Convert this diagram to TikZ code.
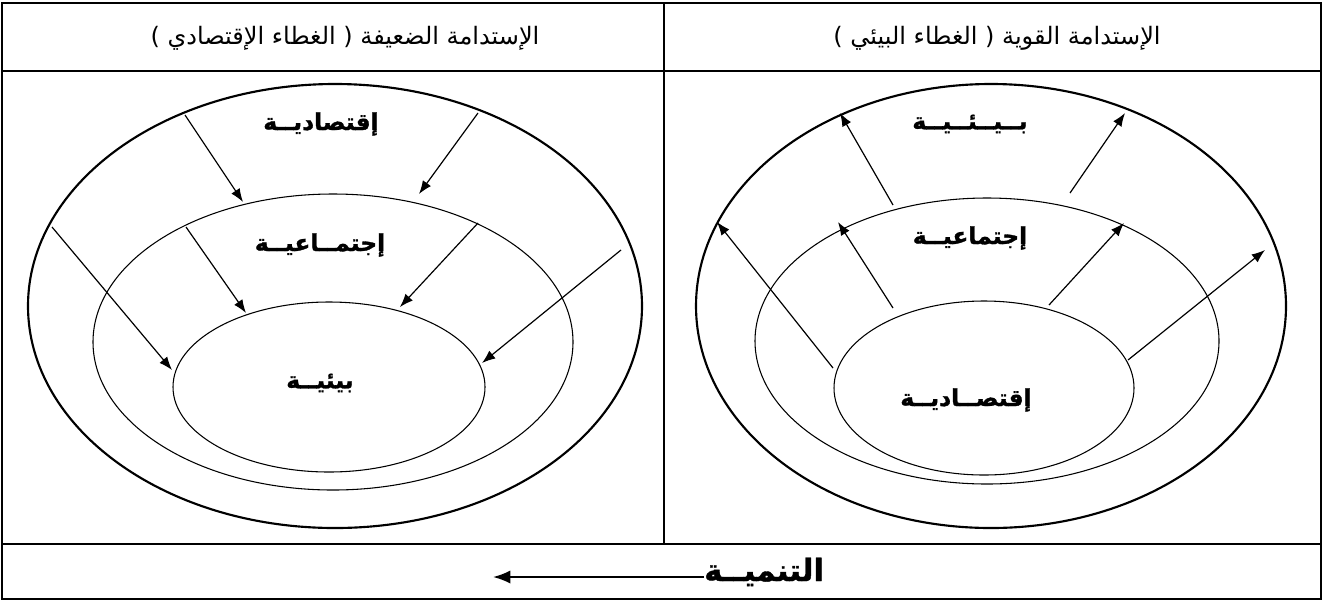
\documentclass[tikz,border=0pt]{standalone}
\usepackage{fontspec}
\usetikzlibrary{arrows.meta,shapes.geometric}
\TeXXeTstate=1
\newfontfamily\arab[Script=Arabic,BoldFeatures={FakeBold=1.2}]{DejaVu Sans}
\begin{document}
\begin{tikzpicture}[x=0.75pt,y=-0.75pt,
  thickline/.style={line width=1.8pt},
  thinline/.style={line width=0.8pt},
  ring/.style={draw, ellipse, inner sep=0pt, line width=0.8pt},
  outerring/.style={ring, line width=1.6pt},
  flow/.style={-{Latex[length=10pt,width=7.5pt]}, line width=0.9pt},
  headtext/.style={font=\fontsize{18}{20}\arab, inner sep=0pt},
  lab/.style={font=\fontsize{17.5}{19}\arab\bfseries, inner sep=0pt}]
\useasboundingbox (0,0) rectangle (1323,601);
\fill[white] (0,0) rectangle (1323,601);
% table
\draw[thickline] (2,3) rectangle (1321,599);
\draw[thickline] (2,71) -- (1321,71);
\draw[thickline] (2,544) -- (1321,544);
\draw[thinline] (664,3) -- (664,544);
% headers
\node[headtext] (hleft) at (345,38) {\beginR الإستدامة الضعيفة ( الغطاء الإقتصادي )\endR};
\node[headtext] (hright) at (997,38) {\beginR الإستدامة القوية ( الغطاء البيئي )\endR};
% left diagram
\node[outerring, minimum width=460.5pt, minimum height=333pt] (lo) at (335,306) {};
\node[ring, minimum width=360pt, minimum height=222pt] (lm) at (333,342) {};
\node[ring, minimum width=234pt, minimum height=127.5pt] (li) at (329,387) {};
\node[lab] (ltop) at (321,124) {\beginR إقتصاديــة\endR};
\node[lab] (lmid) at (320,245) {\beginR إجتمــاعيــة\endR};
\node[lab] (linn) at (320,383) {\beginR بيئيــة\endR};
\coordinate (la1s) at (185,115); \coordinate (la1e) at (243,202);
\coordinate (la2s) at (478,113); \coordinate (la2e) at (419,194);
\coordinate (la3s) at (186,227); \coordinate (la3e) at (246,313);
\coordinate (la4s) at (478,223); \coordinate (la4e) at (400,307);
\coordinate (la5s) at (52,227);  \coordinate (la5e) at (172,370);
\coordinate (la6s) at (621,250); \coordinate (la6e) at (482,363);
\foreach \i in {1,...,6} \draw[flow] (la\i s) -- (la\i e);
% right diagram
\node[outerring, minimum width=442.5pt, minimum height=333pt] (ro) at (991,306) {};
\node[ring, minimum width=348pt, minimum height=214.5pt] (rm) at (987,341) {};
\node[ring, minimum width=225pt, minimum height=130.5pt] (ri) at (984,388) {};
\node[lab] (rtop) at (970,124) {\beginR بــيــئــيــة\endR};
\node[lab] (rmid) at (970,238) {\beginR إجتماعيــة\endR};
\node[lab] (rinn) at (966,400) {\beginR إقتصــاديــة\endR};
\coordinate (ra1s) at (893,205);  \coordinate (ra1e) at (840,113);
\coordinate (ra2s) at (1070,193); \coordinate (ra2e) at (1125,113);
\coordinate (ra3s) at (893,308);  \coordinate (ra3e) at (838,222);
\coordinate (ra4s) at (1049,305); \coordinate (ra4e) at (1124,223);
\coordinate (ra5s) at (833,368);  \coordinate (ra5e) at (717,222);
\coordinate (ra6s) at (1128,360); \coordinate (ra6e) at (1265,250);
\foreach \i in {1,...,6} \draw[flow] (ra\i s) -- (ra\i e);
% bottom
\node[font=\fontsize{23}{25}\arab\bfseries, inner sep=0pt, anchor=base west] (dev) at (704,581) {\beginR التنميــة\endR};
\coordinate (devtip) at (493,577);
\draw[-{Latex[length=13pt,width=10pt]}, line width=1.6pt] ([yshift=3pt]dev.base west) -- (devtip);
\end{tikzpicture}
\end{document}
